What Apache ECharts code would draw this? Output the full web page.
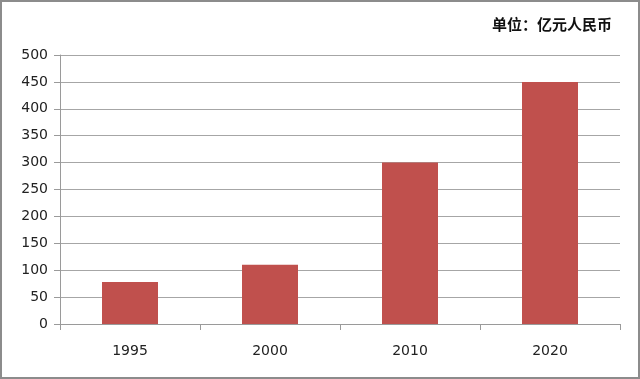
<!DOCTYPE html>
<html>
<head>
<meta charset="utf-8">
<script src="https://cdn.jsdelivr.net/npm/echarts@6/dist/echarts.min.js"></script>
<style>
  html, body { margin: 0; padding: 0; background: #fff; }
  #chart { width: 640px; height: 379px; }
</style>
</head>
<body>
<div id="chart"></div>
<script>
// 数据
var years = ['1995', '2000', '2010', '2020'];
var amounts = [78, 110, 300, 450];
var yTicks = [0, 50, 100, 150, 200, 250, 300, 350, 400, 450, 500];

(function () {
  var myChart = echarts.init(document.getElementById('chart'));
  var option = {
    animation: false,
    // 外框和单位文字
    graphic: [
      {
        type: 'rect',
        shape: { x: 1, y: 1, width: 638, height: 377 },
        style: { fill: 'none', stroke: '#8c8c8c', lineWidth: 2 },
        silent: true
      },
      {
        type: 'text',
        right: 28,
        top: 17,
        style: {
          text: '单位：亿元人民币',
          font: 'bold 15px "Noto Sans CJK SC"',
          fill: '#111'
        }
      }
    ],
    grid: {
      left: 60,
      right: 20,
      top: 55,
      bottom: 55
    },
    xAxis: {
      type: 'category',
      data: years,
      axisLine: { lineStyle: { color: '#9a9a9a', width: 1 } },
      axisTick: { show: true, length: 6, lineStyle: { color: '#9a9a9a' } },
      axisLabel: {
        color: '#222',
        fontSize: 14,
        fontFamily: 'DejaVu Sans',
        margin: 20
      }
    },
    yAxis: {
      type: 'value',
      min: 0,
      max: 500,
      interval: 50,
      axisLine: { show: true, lineStyle: { color: '#9a9a9a' } },
      axisTick: { show: true, length: 6, lineStyle: { color: '#9a9a9a' } },
      axisLabel: {
        color: '#222',
        fontSize: 14,
        fontFamily: 'DejaVu Sans',
        margin: 12
      },
      splitLine: { lineStyle: { color: '#a6a6a6', width: 1 } }
    },
    series: [
      {
        type: 'bar',
        data: amounts,
        barWidth: 56,
        itemStyle: { color: '#c0504d' }
      }
    ]
  };
  myChart.setOption(option);
})();
</script>
</body>
</html>
